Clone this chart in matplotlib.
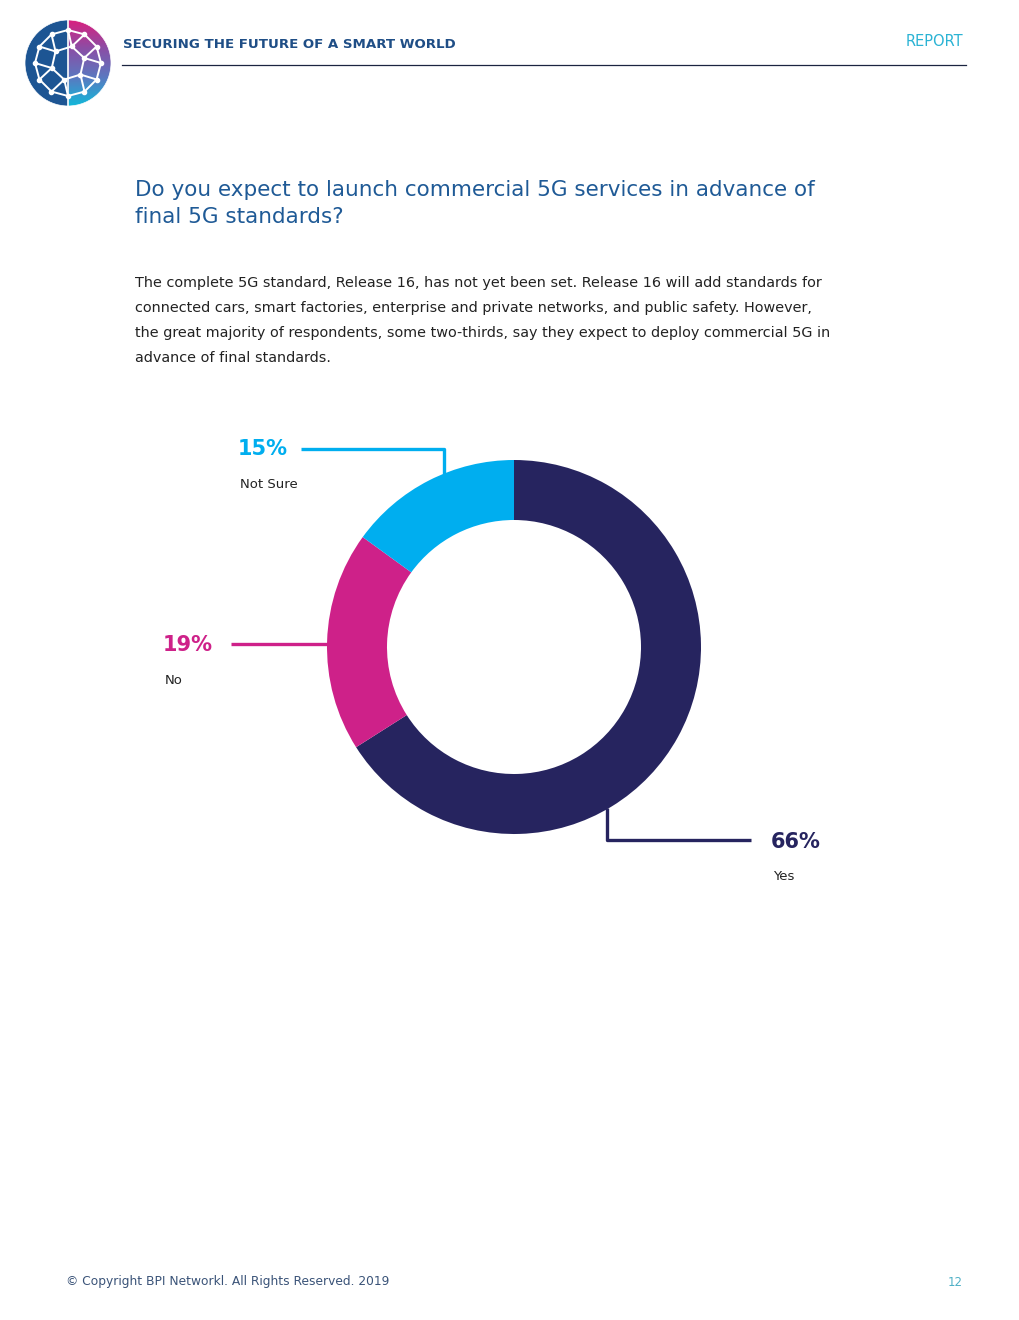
import numpy as np
import matplotlib.pyplot as plt
from matplotlib.patches import Circle, Wedge
from matplotlib.colors import LinearSegmentedColormap

# survey answers
labels = ['Yes', 'No', 'Not Sure']
shares = [66, 19, 15]
colors = ['#26245f', '#ce2189', '#00aeef']

W, H = 1020, 1320
fig = plt.figure(figsize=(10.2, 13.2), dpi=100)
ax = fig.add_axes([0, 0, 1, 1])

def Y(y):
    # page pixels are measured from the top
    return H - y

# ---- donut
cx, cy, r = 514, 647, 187
ax.pie(shares, colors=colors, startangle=90, counterclock=False,
       center=(cx, Y(cy)), radius=r, wedgeprops=dict(width=60, linewidth=0))

# ---- leader lines and labels
lw = 2.4
ax.plot([301, 444, 444], [Y(449), Y(449), Y(474)], color=colors[2], lw=lw, solid_capstyle='butt')
ax.plot([231, 328], [Y(644), Y(644)], color=colors[1], lw=lw, solid_capstyle='butt')
ax.plot([607, 607, 751], [Y(808), Y(840), Y(840)], color=colors[0], lw=lw, solid_capstyle='butt')

lab_pos = {'Yes': (771, 842), 'No': (163, 645), 'Not Sure': (238, 449)}
for name, val, col in zip(labels, shares, colors):
    x, y = lab_pos[name]
    ax.text(x, Y(y), '{:d}%'.format(val), color=col, fontsize=15, fontweight='bold',
            ha='left', va='center')
    ax.text(x + 2, Y(y + 35), name, color='#222222', fontsize=9.5, ha='left', va='center')

# ---- header
logo_c = (68, Y(63))
logo_r = 43
ax.add_patch(Wedge(logo_c, logo_r, 90, 270, color='#1d5593', lw=0))
grad = LinearSegmentedColormap.from_list('g', ['#d8207f', '#8a4fa6', '#5b78c0', '#13b7d9'])
img = ax.imshow(np.linspace(0, 1, 100).reshape(-1, 1), cmap=grad, aspect='auto',
                extent=[68, 68 + logo_r, Y(63) - logo_r, Y(63) + logo_r], origin='upper', zorder=1)
img.set_clip_path(Wedge(logo_c, logo_r, -90, 90, transform=ax.transData))
ang = np.linspace(0, 2 * np.pi, 13)[:-1]
pts = [(68 + 33 * np.cos(a), Y(63) + 33 * np.sin(a)) for a in ang]
pts += [(68 + 17 * np.cos(a + 0.3), Y(63) + 17 * np.sin(a + 0.3)) for a in ang[::2]]
for i, p in enumerate(pts):
    for q in pts[i + 1:]:
        if np.hypot(p[0] - q[0], p[1] - q[1]) < 22:
            ax.plot([p[0], q[0]], [p[1], q[1]], color='white', lw=1.4, zorder=3)
ax.scatter([p[0] for p in pts], [p[1] for p in pts], s=9, color='white', zorder=4)
ax.add_patch(Circle(logo_c, logo_r, fill=False, ec='white', lw=0.5, zorder=5))
ax.plot([68, 68], [Y(20), Y(106)], color='white', lw=1.2, zorder=4)

ax.text(123, Y(44), 'SECURING THE FUTURE OF A SMART WORLD', color='#1f4e86',
        fontsize=9.6, fontweight='bold', ha='left', va='center')
ax.plot([122, 966], [Y(65), Y(65)], color='#1b2440', lw=0.9)
ax.text(963, Y(41), 'REPORT', color='#2bb3d4', fontsize=10.5, ha='right', va='center')

# ---- question and description
ax.text(135, Y(190), 'Do you expect to launch commercial 5G services in advance of',
        color='#1f5a96', fontsize=15.5, ha='left', va='center')
ax.text(135, Y(217), 'final 5G standards?', color='#1f5a96', fontsize=15.5, ha='left', va='center')

body = ['The complete 5G standard, Release 16, has not yet been set. Release 16 will add standards for',
        'connected cars, smart factories, enterprise and private networks, and public safety. However,',
        'the great majority of respondents, some two-thirds, say they expect to deploy commercial 5G in',
        'advance of final standards.']
for i, line in enumerate(body):
    ax.text(135, Y(283 + 25 * i), line, color='#222222', fontsize=10.4, ha='left', va='center')

# ---- footer
ax.text(66, Y(1282), '\u00a9 Copyright BPI Networkl. All Rights Reserved. 2019', color='#3a5378',
        fontsize=8.8, ha='left', va='center')
ax.text(963, Y(1282), '12', color='#4fb0c6', fontsize=8.5, ha='right', va='center')

ax.set_xlim(0, W)
ax.set_ylim(0, H)
ax.set_aspect('auto')
ax.axis('off')
fig.savefig('out.png', dpi=100, facecolor='white')
